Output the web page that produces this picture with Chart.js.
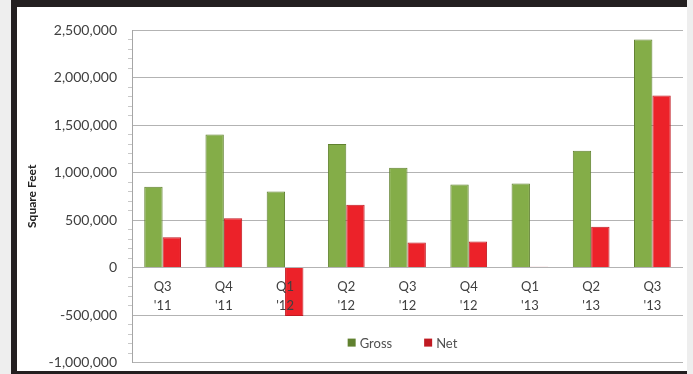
<!DOCTYPE html>
<html>
<head>
<meta charset="utf-8">
<script src="https://cdn.jsdelivr.net/npm/chart.js@4"></script>
<style>
  html, body { margin: 0; padding: 0; background: #eeeeee; overflow: hidden; }
  #frame {
    position: absolute; left: 11px; top: 0; width: 676px; height: 374px;
    border-top: 7px solid #231f20; border-left: 6px solid #231f20; border-bottom: 3px solid #231f20;
    background: #ffffff; box-sizing: border-box;
  }
  #wrap { position: absolute; left: 0; top: 0; width: 670px; height: 375px; }
</style>
</head>
<body>
<div id="frame"><div id="wrap"><canvas id="grafico"></canvas></div></div>
<script>
const trimestres = [["Q3", "'11"], ["Q4", "'11"], ["Q1", "'12"], ["Q2", "'12"], ["Q3", "'12"], ["Q4", "'12"], ["Q1", "'13"], ["Q2", "'13"], ["Q3", "'13"]];
const gross = [850000, 1400000, 800000, 1300000, 1050000, 875000, 885000, 1230000, 2400000];
const net = [320000, 520000, -510000, 660000, 265000, 275000, 8000, 430000, 1810000];
const yMin = -1000000;
const yMax = 2500000;

const fuente = "Lato, 'Open Sans', sans-serif";

// leyenda dibujada dentro del area del grafico, como en Excel
const leyendaInterna = {
  id: "leyendaInterna",
  afterDraw(chart) {
    const ctx = chart.ctx;
    const area = chart.chartArea;
    const sets = chart.data.datasets;
    ctx.save();
    ctx.font = "13px " + fuente;
    ctx.textBaseline = "middle";
    const box = 8, gap = 4, sep = 32;
    let total = 0;
    sets.forEach((ds, i) => {
      total += box + gap + ctx.measureText(ds.label).width + (i < sets.length - 1 ? sep : 0);
    });
    let x = (area.left + area.right) / 2 - total / 2 - 5;
    const y = area.bottom - 20;
    sets.forEach((ds) => {
      ctx.fillStyle = ds.borderColor;
      ctx.fillRect(x, y - box / 2, box, box);
      ctx.fillStyle = "#505050";
      ctx.fillText(ds.label, x + box + gap, y + 1);
      x += box + gap + ctx.measureText(ds.label).width + sep;
    });
    ctx.restore();
  },
};

new Chart(document.getElementById("grafico"), {
  type: "bar",
  data: {
    labels: trimestres,
    datasets: [
      {
        label: "Gross",
        data: gross,
        backgroundColor: "#84ad48",
        borderColor: "#60812f",
        borderWidth: 1,
      },
      {
        label: "Net",
        data: net,
        backgroundColor: "#ec2229",
        borderColor: "#c01a22",
        borderWidth: 1,
      },
    ],
  },
  options: {
    responsive: true,
    maintainAspectRatio: false,
    animation: false,
    layout: { padding: { top: 23, right: 4, bottom: 0, left: 0 } },
    datasets: { bar: { categoryPercentage: 0.6, barPercentage: 1 } },
    plugins: {
      legend: { display: false },
      tooltip: { enabled: false },
    },
    scales: {
      x: {
        position: { y: 0 },
        grid: { display: false, drawTicks: false },
        border: { display: false },
        ticks: {
          z: 1,
          color: "#404040",
          font: { family: fuente, size: 13, lineHeight: 1.45 },
          padding: 10,
          maxRotation: 0,
        },
      },
      y: {
        min: yMin,
        max: yMax,
        afterFit(scale) {
          scale.width = 115;
        },
        title: {
          display: true,
          text: "Square Feet",
          color: "#222222",
          font: { family: fuente, size: 12, weight: "bold" },
          padding: { top: 8, bottom: 0 },
        },
        border: { color: "#a6a6a6" },
        grid: {
          color: (c) => (c.tick && c.tick.value % 500000 === 0 ? "#b3b3b3" : "rgba(0,0,0,0)"),
          tickColor: (c) => (c.tick && c.tick.value % 500000 === 0 ? "rgba(0,0,0,0)" : "#c8c8c8"),
          tickLength: 4,
        },
        ticks: {
          stepSize: 100000,
          autoSkip: false,
          color: "#404040",
          padding: 11,
          font: { family: fuente, size: 14 },
          callback: (v) => (v % 500000 === 0 ? v.toLocaleString("en-US") : ""),
        },
      },
    },
  },
  plugins: [leyendaInterna],
});
</script>
</body>
</html>
